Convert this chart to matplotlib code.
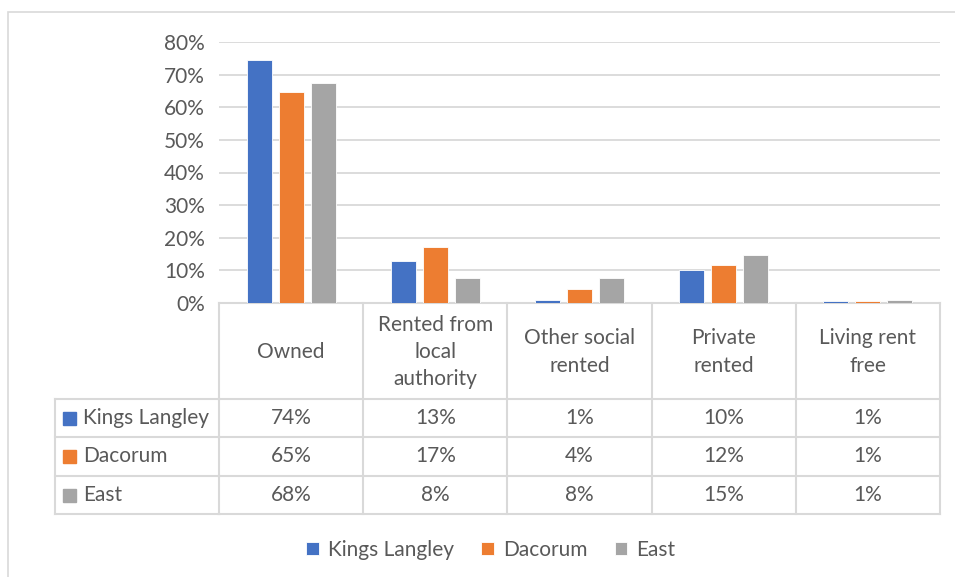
import matplotlib.pyplot as plt
import matplotlib.transforms as mtransforms
from matplotlib.patches import Rectangle
import numpy as np

plt.rcParams['font.family'] = ['Lato', 'DejaVu Sans']

categories = ['Owned', 'Rented from\nlocal\nauthority', 'Other social\nrented',
              'Private\nrented', 'Living rent\nfree']
series = ['Kings Langley', 'Dacorum', 'East']
kings_langley = [74.6, 12.8, 0.8, 10.1, 0.6]
dacorum = [64.8, 17.1, 4.2, 11.8, 0.6]
east = [67.5, 7.6, 7.8, 14.7, 0.9]
table_labels = [
    ['74%', '13%', '1%', '10%', '1%'],
    ['65%', '17%', '4%', '12%', '1%'],
    ['68%', '8%', '8%', '15%', '1%'],
]
colors = ['#4472C4', '#ED7D31', '#A5A5A5']
text_col = '#595959'
grid_col = '#D9D9D9'
fs = 15

W, H = 955, 577
fig = plt.figure(figsize=(W / 100, H / 100), dpi=100)

def fy(py):
    return 1 - py / H

def fx(px):
    return px / W

# outer chart border
fig.patches.append(Rectangle((fx(8), -0.1), 1.2, fy(12) + 0.1, transform=fig.transFigure,
                             fill=False, edgecolor=grid_col, lw=1.2))

ax = fig.add_axes([fx(219), fy(303), fx(940) - fx(219), fy(42) - fy(303)])
x = np.arange(len(categories))
bw = 0.173
step = 0.222
for i, (vals, name) in enumerate(zip([kings_langley, dacorum, east], series)):
    ax.bar(x + (i - 1) * step, vals, bw, color=colors[i], label=name,
           edgecolor='white', linewidth=0.6, zorder=3)

ax.set_xlim(-0.5, len(categories) - 0.5)
ax.set_ylim(0, 80)
ax.set_yticks(range(0, 81, 10))
ax.set_yticklabels([f'{v}%' for v in range(0, 81, 10)], color=text_col, fontsize=fs)
ax.tick_params(axis='y', length=0, pad=10)
ax.set_xticks([])
ax.grid(axis='y', color=grid_col, lw=1.3, zorder=0)
for s in ax.spines.values():
    s.set_visible(False)

# data table
tr = mtransforms.blended_transform_factory(ax.transData, fig.transFigure)
row_y = [303, 399, 437, 476, 514]
line_kw = dict(color=grid_col, lw=1.5, clip_on=False)
for b in np.arange(len(categories) + 1) - 0.5:
    ax.plot([b, b], [fy(303), fy(514)], transform=tr, **line_kw)
for py in row_y:
    ax.plot([-0.5, len(categories) - 0.5], [fy(py), fy(py)], transform=tr, **line_kw)
# row label column
for py in row_y[1:]:
    fig.add_artist(plt.Line2D([fx(55), fx(219)], [fy(py), fy(py)], color=grid_col, lw=1.5))
fig.add_artist(plt.Line2D([fx(55), fx(55)], [fy(399), fy(514)], color=grid_col, lw=1.5))

for j, cat in enumerate(categories):
    ax.text(j, fy((303 + 399) / 2 + 1), cat, transform=tr, ha='center', va='center',
            color=text_col, fontsize=fs, linespacing=1.45)
for r in range(3):
    yc = fy((row_y[r + 1] + row_y[r + 2]) / 2)
    for j in range(len(categories)):
        ax.text(j, yc, table_labels[r][j], transform=tr, ha='center', va='center',
                color=text_col, fontsize=fs)
    fig.patches.append(Rectangle((fx(63), yc - 6.5 / H), 13 / W, 13 / H,
                                 transform=fig.transFigure, color=colors[r]))
    fig.text(fx(83), yc, series[r], ha='left', va='center', color=text_col, fontsize=fs)

leg = ax.legend(loc='center', bbox_to_anchor=(fx(491), fy(550)), bbox_transform=fig.transFigure,
                ncol=3, frameon=False, fontsize=fs, handlelength=0.6, handleheight=0.6,
                handletextpad=0.45, columnspacing=1.3)
for t in leg.get_texts():
    t.set_color(text_col)

fig.savefig('out.png', dpi=100)
